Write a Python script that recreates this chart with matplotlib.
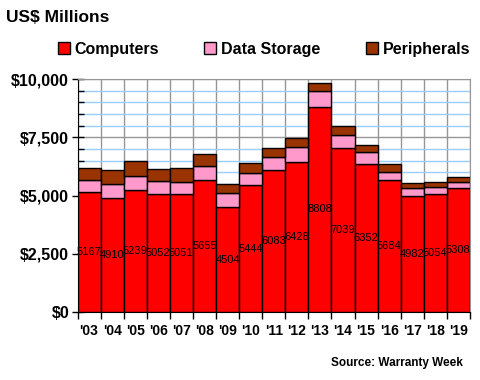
import matplotlib.pyplot as plt
import numpy as np
from matplotlib.ticker import FuncFormatter, MultipleLocator

plt.rcParams['font.family'] = ['Liberation Sans', 'DejaVu Sans']

years = ["'03", "'04", "'05", "'06", "'07", "'08", "'09", "'10", "'11",
         "'12", "'13", "'14", "'15", "'16", "'17", "'18", "'19"]
computers = [5167, 4910, 5239, 5052, 5051, 5655, 4504, 5444, 6083,
             6428, 8808, 7039, 6352, 5684, 4982, 5054, 5308]
storage = [520, 605, 620, 550, 550, 625, 625, 530, 585,
           675, 685, 555, 510, 335, 320, 290, 280]
peripherals = [510, 565, 610, 555, 595, 510, 385, 425, 385,
               380, 340, 380, 295, 355, 255, 215, 225]

c_red = '#FF0000'
c_pink = '#FF99CC'
c_brown = '#993300'

fig = plt.figure(figsize=(4.8, 3.8), dpi=100)
ax = fig.add_axes([0.1615, 0.179, 0.8175, 0.613])

x = np.arange(len(years))
comp = np.array(computers)
stor = np.array(storage)
peri = np.array(peripherals)

ax.bar(x, comp, width=1.0, color=c_red, edgecolor='black', linewidth=1, zorder=3, label='Computers')
ax.bar(x, stor, width=1.0, bottom=comp, color=c_pink, edgecolor='black', linewidth=1, zorder=3, label='Data Storage')
ax.bar(x, peri, width=1.0, bottom=comp + stor, color=c_brown, edgecolor='black', linewidth=1, zorder=3, label='Peripherals')

for xi, v in zip(x, computers):
    ax.text(xi, v / 2, str(v), ha='center', va='center', fontsize=8, zorder=4)

ax.set_xlim(-0.5, len(years) - 0.5)
ax.set_ylim(0, 10000)

# y axis
ax.yaxis.set_major_locator(MultipleLocator(2500))
ax.yaxis.set_minor_locator(MultipleLocator(500))
ax.yaxis.set_major_formatter(FuncFormatter(lambda v, p: '${:,.0f}'.format(v)))
ax.tick_params(axis='y', which='major', direction='inout', length=8, width=1,
               labelsize=11.5, pad=2)
ax.tick_params(axis='y', which='minor', direction='in', length=4, width=1)
for lab in ax.get_yticklabels():
    lab.set_fontweight('bold')

# x axis: ticks at boundaries, labels at centers
ax.set_xticks(np.arange(len(years) + 1) - 0.5)
ax.set_xticklabels([])
ax.set_xticks(x, minor=True)
ax.set_xticklabels(years, minor=True, fontweight='bold', fontsize=10)
ax.tick_params(axis='x', which='major', direction='out', length=5, width=1)
ax.tick_params(axis='x', which='minor', length=0, pad=9)

# grid
ax.grid(axis='y', which='minor', color='#99CCFF', linewidth=1, zorder=0)
ax.grid(axis='y', which='major', color='#969696', linewidth=1, zorder=1)
ax.grid(axis='x', which='major', color='#969696', linewidth=1, zorder=1)

for s in ['top', 'right']:
    ax.spines[s].set_color('#969696')
ax.spines['left'].set_color('black')
ax.spines['bottom'].set_color('black')

fig.text(0.012, 0.953, 'US$ Millions', fontsize=12.5, fontweight='bold', va='center', ha='left')

leg = fig.legend(loc='center', bbox_to_anchor=(0.55, 0.871), ncol=3, frameon=False,
                 prop={'weight': 'bold', 'size': 11.5}, handlelength=0.75, handleheight=0.75,
                 handletextpad=0.3, columnspacing=2.85, borderaxespad=0)

fig.text(0.965, 0.045, 'Source: Warranty Week', fontsize=8.5, fontweight='bold', ha='right', va='center')

fig.savefig('out.png', dpi=100)
